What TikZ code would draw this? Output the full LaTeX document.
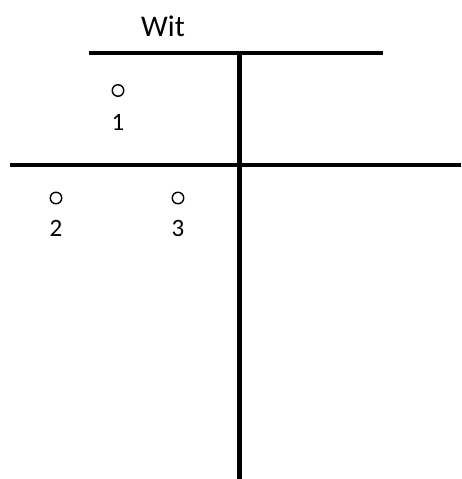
\documentclass[tikz,border=0pt]{standalone}
\usepackage{fontspec}
\setmainfont{Carlito}
\begin{document}
\begin{tikzpicture}[x=1pt,y=-1pt,
  bar/.style={line width=4.5pt},
  dot/.style={circle,draw,line width=1.4pt,minimum size=11.5pt,inner sep=0pt},
  lbl/.style={font=\fontsize{25}{25}\selectfont,inner sep=0pt}]
\useasboundingbox (0,0) rectangle (461,479);
\coordinate (tl) at (89,53);
\coordinate (tr) at (383,53);
\coordinate (vt) at (239.5,51);
\coordinate (vb) at (239.5,479);
\coordinate (ml) at (10,165);
\coordinate (mr) at (461,165);
\draw[bar] (tl) -- (tr);
\draw[bar] (vt) -- (vb);
\draw[bar] (ml) -- (mr);
\node[font=\fontsize{30}{30}\selectfont,inner sep=0pt] (wit) at (163,26) {Wit};
\node[dot] (c1) at (118,90.5) {};
\node[dot] (c2) at (56,198) {};
\node[dot] (c3) at (178,198) {};
\node[lbl] (l1) at (118,122) {1};
\node[lbl] (l2) at (56,228) {2};
\node[lbl] (l3) at (178,228) {3};
\end{tikzpicture}
\end{document}
